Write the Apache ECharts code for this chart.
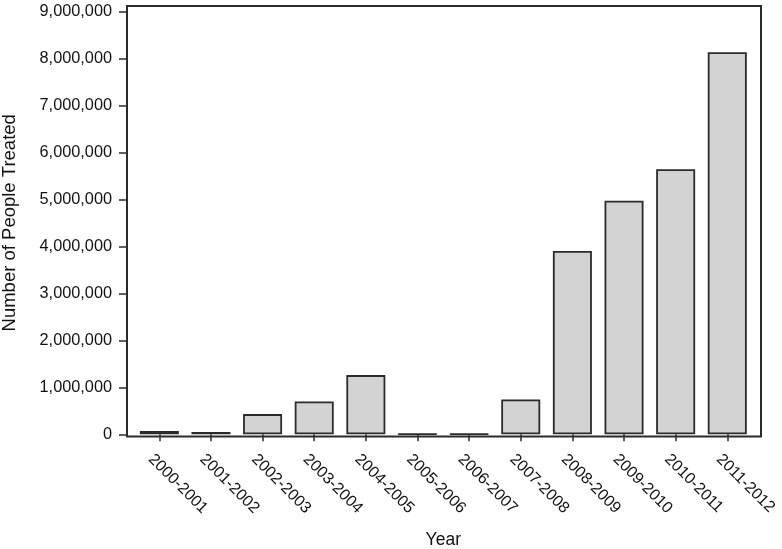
<!DOCTYPE html>
<html>
<head>
<meta charset="utf-8">
<script src="https://cdn.jsdelivr.net/npm/echarts@6/dist/echarts.min.js"></script>
<style>html,body{margin:0;padding:0;background:#fff}#c{width:782px;height:549px}</style>
</head>
<body>
<div id="c"></div>
<script>
const categories = ['2000-2001','2001-2002','2002-2003','2003-2004','2004-2005','2005-2006','2006-2007','2007-2008','2008-2009','2009-2010','2010-2011','2011-2012'];
const peopleTreated = [70000, 50000, 430000, 700000, 1260000, 8000, 8000, 740000, 3900000, 4970000, 5640000, 8130000];
const yTicks = {min: 0, max: 9000000, interval: 1000000};

const FONT = '"Liberation Sans", Arial, sans-serif';
const chart = echarts.init(document.getElementById('c'));
chart.setOption({
  animation: false,
  backgroundColor: '#fff',
  grid: {left: 133.5, right: 28.9, top: 11.3, bottom: 114.7, outerBoundsMode: 'none', containLabel: false},
  graphic: [{
    type: 'rect', z: 100, silent: true,
    shape: {x: 127, y: 6, width: 634, height: 430.5},
    style: {fill: 'none', stroke: '#2b2b2b', lineWidth: 2}
  }],
  xAxis: {
    type: 'category',
    data: categories,
    offset: 2,
    axisLine: {show: false},
    axisTick: {show: true, alignWithLabel: true, length: 7, lineStyle: {color: '#2b2b2b', width: 1.5}},
    axisLabel: {rotate: -45, interval: 0, margin: 12, color: '#111', fontSize: 16, fontFamily: FONT,
      verticalAlign: 'top', lineHeight: 24},
    name: 'Year', nameLocation: 'middle', nameGap: 95,
    nameTextStyle: {color: '#111', fontSize: 17.5, fontFamily: FONT}
  },
  yAxis: {
    type: 'value',
    min: yTicks.min, max: yTicks.max, interval: yTicks.interval,
    offset: 6.5,
    splitLine: {show: false},
    axisLine: {show: false},
    axisTick: {show: true, length: 8, lineStyle: {color: '#2b2b2b', width: 1.5}},
    axisLabel: {margin: 15, color: '#111', fontSize: 16.3, fontFamily: FONT,
      formatter: v => v.toLocaleString('en-US')},
    name: 'Number of People Treated', nameLocation: 'middle', nameGap: 108,
    nameTextStyle: {color: '#111', fontSize: 18.5, fontFamily: FONT}
  },
  series: [{
    type: 'bar',
    data: peopleTreated,
    barWidth: 39,
    itemStyle: {color: '#d3d3d3', borderColor: '#2b2b2b', borderWidth: 1.8}
  }]
});
</script>
</body>
</html>
